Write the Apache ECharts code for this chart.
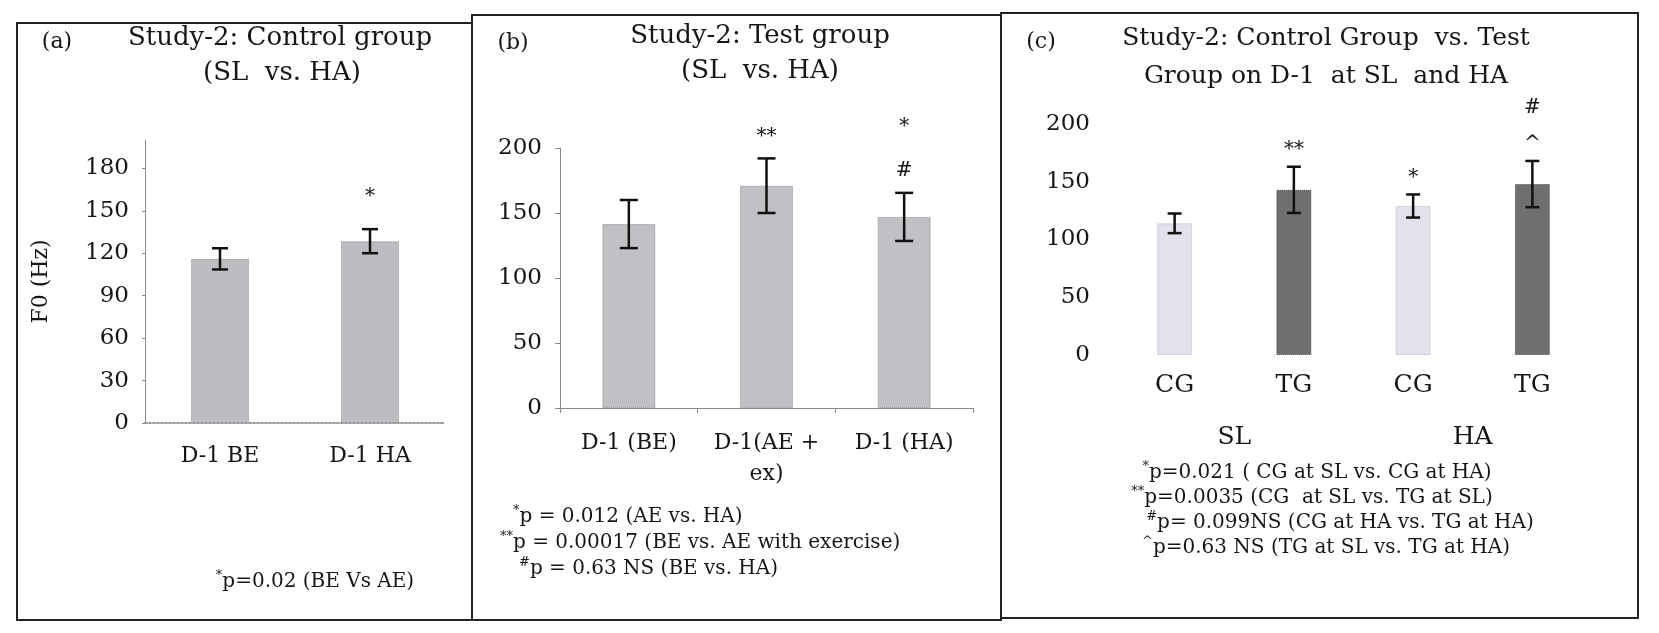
<!DOCTYPE html>
<html>
<head>
<meta charset="utf-8">
<title>Study-2 F0</title>
<script src="https://cdn.jsdelivr.net/npm/echarts@6/dist/echarts.min.js"></script>
<style>
  html, body { margin: 0; padding: 0; background: #fff; }
  #chart { width: 1659px; height: 633px; }
</style>
</head>
<body>
<div id="chart"></div>
<script>
// (a) control group, SL vs HA
const catsA = ['D-1 BE', 'D-1 HA'];
const meanA = [116, 128.5];
const errA = [7.5, 8.5];
const starA = ['', '*'];

// (b) test group, SL vs HA
const catsB = ['D-1 (BE)', 'D-1(AE +\nex)', 'D-1 (HA)'];
const meanB = [141.5, 171, 147];
const errB = [18.5, 21, 18.5];
const starB = ['', '**', '*\n#'];

// (c) control vs test group on D-1
const groupsC = ['CG', 'TG', 'CG', 'TG'];
const levelsC = ['SL', 'HA'];
const meanC = [114, 143, 129, 148];
const errC = [8.5, 20, 10, 20];
const starC = ['', '**', '*', '#\n^'];

// footnotes ({s|..} = superscript mark)
const notesA = ['{s|*}p=0.02 (BE Vs AE)'];
const notesB = [
  '{s|*}p = 0.012 (AE vs. HA)',
  '{s|**}p = 0.00017 (BE vs. AE with exercise)',
  '{s|#}p = 0.63 NS (BE vs. HA)'
];
const notesC = [
  '{s|*}p=0.021 ( CG at SL vs. CG at HA)',
  '{s|**}p=0.0035 (CG  at SL vs. TG at SL)',
  '{s|#}p= 0.099NS (CG at HA vs. TG at HA)',
  '{s|^}p=0.63 NS (TG at SL vs. TG at HA)'
];

const FONT = 'DejaVu Serif';
const INK = '#161616';

const myChart = echarts.init(document.getElementById('chart'));

// error bar + significance marks drawn on the axis scale
function errorBars (marks, capW, lw, gap, step) {
  return function (params, api) {
    const i = api.value(0);
    const lo = api.coord([i, api.value(1)]);
    const hi = api.coord([i, api.value(2)]);
    const x = lo[0];
    const st = { stroke: '#111', lineWidth: lw };
    const kids = [
      { type: 'line', shape: { x1: x, y1: lo[1], x2: x, y2: hi[1] }, style: st },
      { type: 'line', shape: { x1: x - capW / 2, y1: hi[1], x2: x + capW / 2, y2: hi[1] }, style: st },
      { type: 'line', shape: { x1: x - capW / 2, y1: lo[1], x2: x + capW / 2, y2: lo[1] }, style: st }
    ];
    const lines = (marks[params.dataIndex] || '').split('\n').filter(s => s).reverse();
    lines.forEach((t, k) => {
      kids.push({
        type: 'text',
        x: x,
        y: hi[1] - gap - k * step,
        style: { text: t, fontSize: 20, fontFamily: FONT, fill: INK, align: 'center', verticalAlign: 'middle' }
      });
    });
    return { type: 'group', children: kids };
  };
}

function errData (mean, err) {
  return mean.map((m, i) => [i, m - err[i], m + err[i]]);
}

function txt (x, y, text, size, align) {
  return {
    type: 'text',
    x: x,
    y: y,
    style: {
      text: text,
      fontFamily: FONT,
      fontSize: size,
      fill: INK,
      align: align || 'center',
      verticalAlign: 'middle',
      lineHeight: size + 6,
      rich: {
        s: { fontFamily: FONT, fontSize: 13, fill: INK, verticalAlign: 'top', lineHeight: size + 6 }
      }
    }
  };
}

function box (x, y, w, h) {
  return { type: 'rect', shape: { x: x, y: y, width: w, height: h }, style: { fill: 'none', stroke: '#222', lineWidth: 2 } };
}

const labelStyle = { fontFamily: FONT, color: INK };

const graphics = [
  box(17, 23, 455, 597),
  box(472, 15, 529, 605),
  box(1001, 13, 637, 605),
  // titles
  txt(57, 42, '(a)', 22),
  txt(280, 38, 'Study-2: Control group', 26),
  txt(282, 73, '(SL  vs. HA)', 26),
  txt(513, 43, '(b)', 22),
  txt(760, 36, 'Study-2: Test group', 26),
  txt(760, 71, '(SL  vs. HA)', 26),
  txt(1041, 42, '(c)', 22),
  txt(1326, 38, 'Study-2: Control Group  vs. Test', 25),
  txt(1326, 76, 'Group on D-1  at SL  and HA', 25),
  // footnotes
  txt(315, 582, notesA[0], 20),
  txt(513, 517, notesB[0], 20, 'left'),
  txt(500, 543, notesB[1], 20, 'left'),
  txt(519, 569, notesB[2], 20, 'left'),
  txt(1317, 473, notesC[0], 20),
  txt(1312, 498, notesC[1], 20),
  txt(1340, 523, notesC[2], 20),
  txt(1326, 548, notesC[3], 20)
];

const option = {
  backgroundColor: '#fff',
  animation: false,
  graphic: graphics,
  grid: [
    { left: 145, top: 140, width: 300, height: 283 },
    { left: 560, top: 148, width: 413, height: 260 },
    { left: 1115, top: 124, width: 477, height: 231 }
  ],
  xAxis: [
    {
      gridIndex: 0,
      type: 'category',
      data: catsA,
      axisLine: { lineStyle: { color: '#9a9a9a', type: 'dotted', width: 2 } },
      axisTick: { show: false },
      axisLabel: Object.assign({ fontSize: 22, margin: 22 }, labelStyle)
    },
    {
      gridIndex: 1,
      type: 'category',
      data: catsB,
      axisLine: { lineStyle: { color: '#8a8a8a' } },
      axisTick: { show: true, length: 5, lineStyle: { color: '#8a8a8a' } },
      axisLabel: Object.assign({ fontSize: 22, margin: 20, lineHeight: 31 }, labelStyle)
    },
    {
      gridIndex: 2,
      type: 'category',
      data: groupsC.map((g, i) => g + '|' + i),
      axisLine: { show: false },
      axisTick: { show: false },
      axisLabel: Object.assign({ fontSize: 25, margin: 18, formatter: v => v.split('|')[0] }, labelStyle)
    },
    {
      gridIndex: 2,
      type: 'category',
      data: levelsC,
      position: 'bottom',
      offset: 62,
      axisLine: { show: false },
      axisTick: { show: false },
      axisLabel: Object.assign({ fontSize: 25 }, labelStyle)
    }
  ],
  yAxis: [
    {
      gridIndex: 0,
      type: 'value',
      min: 0,
      max: 200,
      interval: 30,
      name: 'F0 (Hz)',
      nameLocation: 'middle',
      nameRotate: 90,
      nameGap: 93,
      nameTextStyle: { fontFamily: FONT, fontSize: 22, color: INK },
      axisLine: { show: true, lineStyle: { color: '#8a8a8a' } },
      axisTick: { show: true, length: 3, lineStyle: { color: '#8a8a8a' } },
      axisLabel: Object.assign({ fontSize: 23, margin: 16, showMaxLabel: false }, labelStyle),
      splitLine: { show: false }
    },
    {
      gridIndex: 1,
      type: 'value',
      min: 0,
      max: 200,
      interval: 50,
      axisLine: { show: true, lineStyle: { color: '#8a8a8a' } },
      axisTick: { show: true, length: 5, lineStyle: { color: '#8a8a8a' } },
      axisLabel: Object.assign({ fontSize: 23, margin: 18 }, labelStyle),
      splitLine: { show: false }
    },
    {
      gridIndex: 2,
      type: 'value',
      min: 0,
      max: 200,
      interval: 50,
      axisLine: { show: false },
      axisTick: { show: false },
      axisLabel: Object.assign({ fontSize: 23, margin: 25 }, labelStyle),
      splitLine: { show: false }
    }
  ],
  series: [
    {
      type: 'bar',
      xAxisIndex: 0,
      yAxisIndex: 0,
      data: meanA,
      barWidth: 58,
      itemStyle: { color: '#bdbcc1', borderColor: '#8c8c8c', borderWidth: 1, borderType: 'dotted' }
    },
    {
      type: 'custom',
      xAxisIndex: 0,
      yAxisIndex: 0,
      data: errData(meanA, errA),
      renderItem: errorBars(starA, 16, 2.5, 32, 40),
      clip: false,
      z: 5
    },
    {
      type: 'bar',
      xAxisIndex: 1,
      yAxisIndex: 1,
      data: meanB,
      barWidth: 53,
      itemStyle: { color: '#c1c0c4', borderColor: '#8c8c8c', borderWidth: 1, borderType: 'dotted' }
    },
    {
      type: 'custom',
      xAxisIndex: 1,
      yAxisIndex: 1,
      data: errData(meanB, errB),
      renderItem: errorBars(starB, 18, 2.5, 22, 44),
      clip: false,
      z: 5
    },
    {
      type: 'bar',
      xAxisIndex: 2,
      yAxisIndex: 2,
      data: meanC.map((v, i) => ({
        value: v,
        itemStyle: i % 2
          ? { color: '#6f6f6f', borderColor: '#4a4a4a', borderWidth: 1, borderType: 'dotted' }
          : { color: '#e2e2ec', borderColor: '#b5b5c0', borderWidth: 1, borderType: 'dotted' }
      })),
      barWidth: 35
    },
    {
      type: 'custom',
      xAxisIndex: 2,
      yAxisIndex: 2,
      data: errData(meanC, errC),
      renderItem: errorBars(starC, 14, 2.5, 17, 36),
      clip: false,
      z: 5
    }
  ]
};

myChart.setOption(option);
</script>
</body>
</html>
